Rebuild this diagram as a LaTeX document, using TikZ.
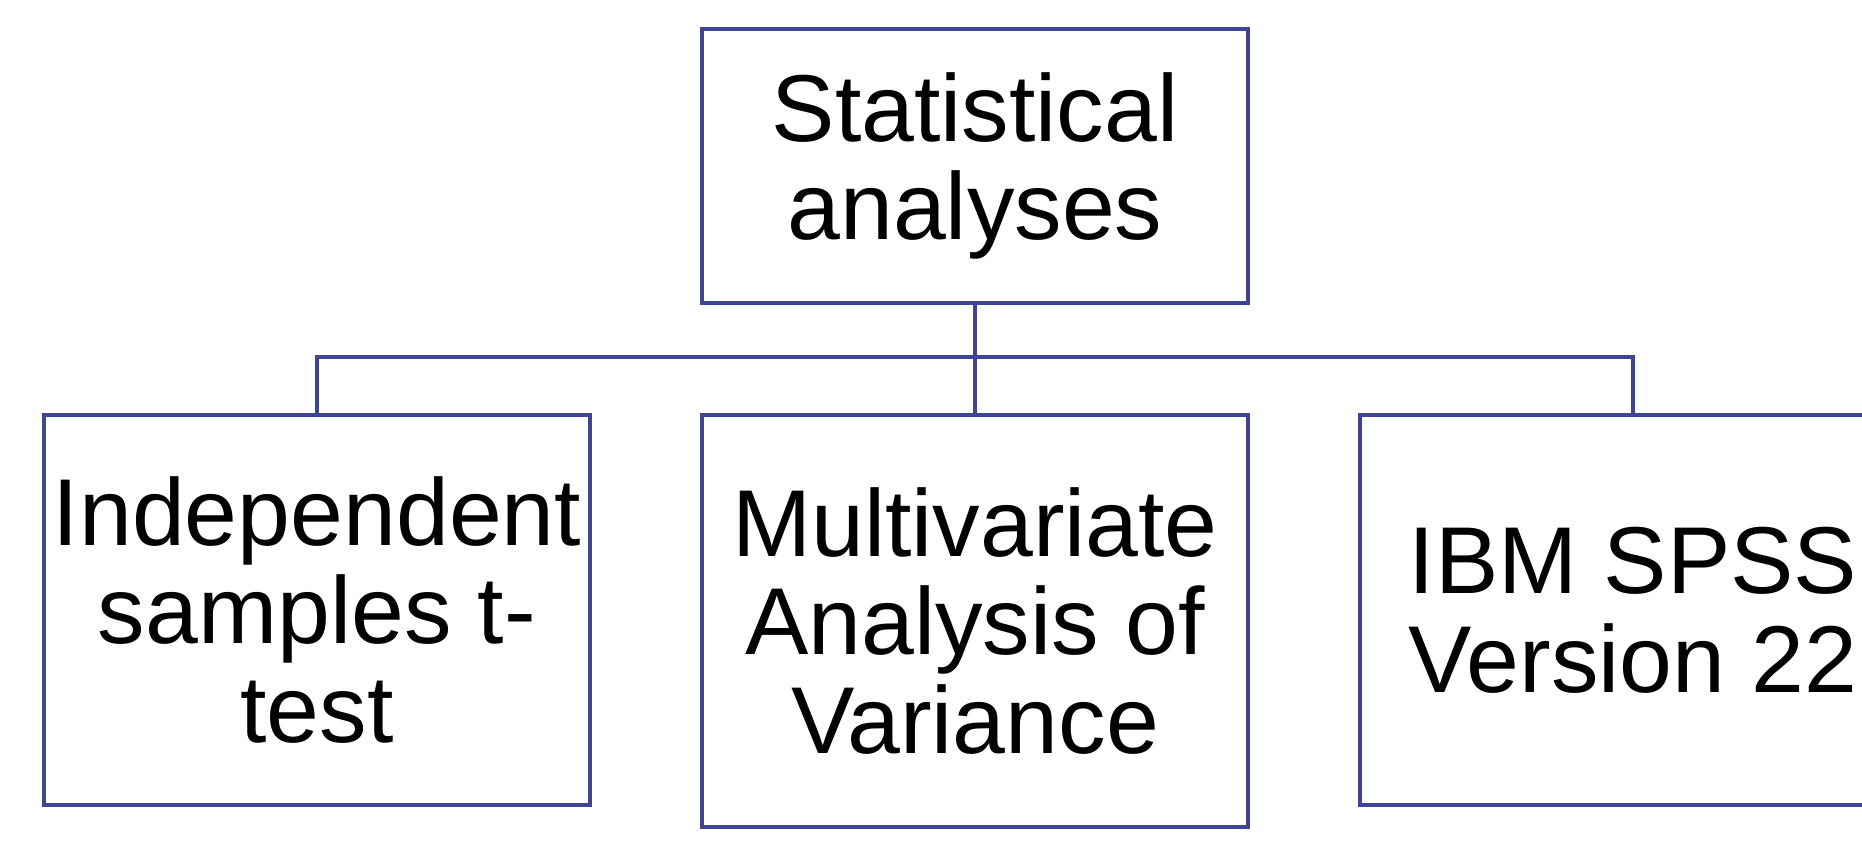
\documentclass[tikz,border=0pt]{standalone}
\usepackage{fontspec}
\setmainfont{Liberation Sans}
\usetikzlibrary{positioning}
\definecolor{boxblue}{RGB}{62,68,152}
\tikzset{
    %Define style for boxes
    box/.style={
           rectangle,
           draw=boxblue, line width=2.4pt,
           minimum width=273pt,
           inner sep=0pt,
           font=\fontsize{47.5}{49.3}\selectfont,
           text centered,
           align=center},
    topbox/.style={box, minimum height=137pt},
    leafbox/.style={box, minimum height=195pt},
    tallbox/.style={box, minimum height=206pt},
    % Define line style
    link/.style={
           draw=boxblue, line width=2.4pt}
}
\begin{document}
\begin{tikzpicture}[x=0.5pt,y=-0.5pt]
\useasboundingbox (0,0) rectangle (1862,858);
\clip (0,0) rectangle (1862,858);
\node[topbox](1) at (975,166) {Statistical\\analyses};
\node[leafbox](2) at (317,610) {Independent\\samples t-\\test};
\node[tallbox](3) at (975,621) {Multivariate\\Analysis of\\Variance};
\node[leafbox](4) at (1633,610) {IBM SPSS\\Version 22};
\coordinate (bus) at (975,357);
\draw[link] (1) -- (3);
\draw[link] (2) |- (bus) -| (4);
\end{tikzpicture}
\end{document}
